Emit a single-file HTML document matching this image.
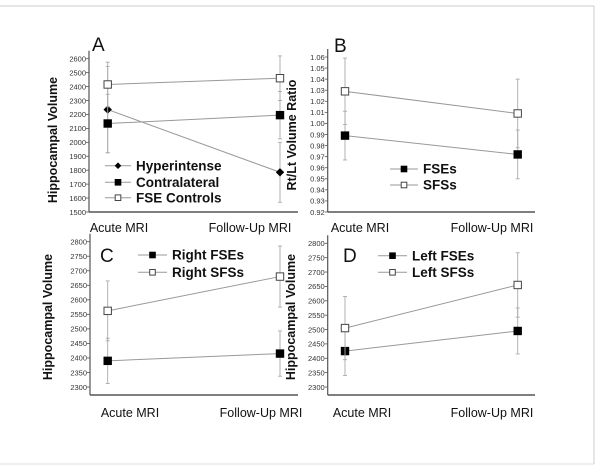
<!DOCTYPE html>
<html><head><meta charset="utf-8"><style>
html,body{margin:0;padding:0;background:#fff;}
svg{display:block;font-family:"Liberation Sans",sans-serif;}
</style></head><body>
<svg id="fig" width="600" height="471" viewBox="0 0 600 471">
<line x1="0" y1="6" x2="594" y2="6" stroke="#ccc" stroke-width="1"/>
<line x1="594" y1="6" x2="594" y2="464" stroke="#ccc" stroke-width="1"/>
<line x1="0" y1="464" x2="594" y2="464" stroke="#ddd" stroke-width="1"/>
</svg>
<script>
// ---- data ----
const categories = ["Acute MRI", "Follow-Up MRI"];
// Panel A
const aTicks = [1500,1600,1700,1800,1900,2000,2100,2200,2300,2400,2500,2600];
const aSeriesNames = ["Hyperintense","Contralateral","FSE Controls"];
const aHyper = [2235, 1785];
const aHyperErr = [310, 215];
const aContra = [2135, 2195];
const aContraErr = [210, 170];
const aControls = [2415, 2460];
const aControlsErr = [160, 160];
// Panel B
const bTicks = [0.92,0.93,0.94,0.95,0.96,0.97,0.98,0.99,1.00,1.01,1.02,1.03,1.04,1.05,1.06];
const bFSE = [0.989, 0.972];
const bFSEErr = [0.022, 0.022];
const bSFS = [1.029, 1.009];
const bSFSErr = [0.030, 0.031];
// Panel C
const cTicks = [2300,2350,2400,2450,2500,2550,2600,2650,2700,2750,2800];
const cFSE = [2390, 2415];
const cFSEErr = [78, 78];
const cSFS = [2562, 2680];
const cSFSErr = [103, 105];
// Panel D
const dTicks = [2300,2350,2400,2450,2500,2550,2600,2650,2700,2750,2800];
const dFSE = [2425, 2495];
const dFSEErr = [85, 80];
const dSFS = [2505, 2655];
const dSFSErr = [110, 112];

const NS = "http://www.w3.org/2000/svg";
const svg = document.getElementById("fig");
function mk(tag, attrs, parent){
  const e = document.createElementNS(NS, tag);
  for (const k in attrs) e.setAttribute(k, attrs[k]);
  (parent||svg).appendChild(e);
  return e;
}

function panel(cfg){
  const g = mk("g", {});
  
  
  const t0 = cfg.ticks[0], t1 = cfg.ticks[cfg.ticks.length-1];
  const y = v => cfg.yBot + (v - t0) / (t1 - t0) * (cfg.yTop - cfg.yBot);
  const x = i => cfg.xPts[i];
  const ya = mk("line", {x1:cfg.ax, y1:cfg.yTop-8, x2:cfg.ax, y2:cfg.axisY, stroke:"#555", "stroke-width":1.2}, g);
  
  
  const xa = mk("line", {x1:cfg.ax, y1:cfg.axisY, x2:cfg.axEnd, y2:cfg.axisY, stroke:"#555", "stroke-width":1.5}, g);
  
  
  cfg.ticks.forEach(v => {
    const tk = mk("line", {x1:cfg.ax-3, y1:y(v), x2:cfg.ax, y2:y(v), stroke:"#555", "stroke-width":0.8}, g);
    
    
    const tl = mk("text", {x:cfg.ax-3, y:y(v)+2.8, "font-size":7.5, "text-anchor":"end", fill:"#333"}, g);
    tl.textContent = cfg.fmt ? cfg.fmt(v) : v;
    
    
  });
  const yt = mk("text", {x:cfg.ytX, y:cfg.ytY, "font-size":12.5, "font-weight":"bold", "text-anchor":"middle", fill:"#111", transform:`rotate(-90 ${cfg.ytX} ${cfg.ytY})`}, g);
  yt.textContent = cfg.ytitle;
  
  
  categories.forEach((c, i) => {
    const xl = mk("text", {x:cfg.xLab[i], y:cfg.xLabY, "font-size":12.5, "text-anchor":"middle", fill:"#111"}, g);
    xl.textContent = c;
    
    
  });
  const pl = mk("text", {x:cfg.letterX, y:cfg.letterY, "font-size":19, fill:"#111"}, g);
  pl.textContent = cfg.id;
  
  
  cfg.series.forEach(s => {
    const sg = mk("g", {}, g);
    
    
    s.vals.forEach((v, i) => {
      const eb = mk("line", {x1:x(i), y1:y(v - s.err[i]), x2:x(i), y2:y(v + s.err[i]), stroke:"#aaa", "stroke-width":0.9}, sg);
      
      
      [v - s.err[i], v + s.err[i]].forEach(e => {
        const cap = mk("line", {x1:x(i)-2, y1:y(e), x2:x(i)+2, y2:y(e), stroke:"#aaa", "stroke-width":0.9}, sg);
        
        
      });
    });
    const ln = mk("line", {x1:x(0), y1:y(s.vals[0]), x2:x(1), y2:y(s.vals[1]), stroke:"#999", "stroke-width":1}, sg);
    
    
    s.vals.forEach((v, i) => {
      const m = marker(sg, s.shape, x(i), y(v), 4.2);
      
      
    });
  });
  cfg.series.forEach((s, k) => {
    const ly = cfg.legY[k];
    const lg = mk("g", {}, g);
    
    
    mk("line", {x1:cfg.legX0, y1:ly, x2:cfg.legX1, y2:ly, stroke:"#999", "stroke-width":1}, lg);
    marker(lg, s.shape, (cfg.legX0+cfg.legX1)/2, ly, 3.3);
    const lt = mk("text", {x:cfg.legX1+5, y:ly+4.7, "font-size":13.5, "font-weight":"bold", fill:"#111"}, lg);
    lt.textContent = s.name;
  });
}
function marker(p, shape, cx, cy, r){
  if (shape === "diamond") return mk("polygon", {points:`${cx},${cy-r} ${cx+r},${cy} ${cx},${cy+r} ${cx-r},${cy}`, fill:"#000"}, p);
  if (shape === "open") return mk("rect", {x:cx-r+0.5, y:cy-r+0.5, width:2*r-1, height:2*r-1, fill:"#fff", stroke:"#444", "stroke-width":1}, p);
  return mk("rect", {x:cx-r, y:cy-r, width:2*r, height:2*r, fill:"#000"}, p);
}

panel({id:"A", ticks:aTicks, yTop:58.7, yBot:212, axisY:212, ax:89, axEnd:298, xPts:[107.7,280],
  ytitle:"Hippocampal Volume", ytX:57, ytY:140, xLab:[119,250], xLabY:232, letterX:92, letterY:51,
  legY:[165.7,182.3,197.7], legX0:105, legX1:131,
  series:[{name:"Hyperintense",shape:"diamond",vals:aHyper,err:aHyperErr},
          {name:"Contralateral",shape:"filled",vals:aContra,err:aContraErr},
          {name:"FSE Controls",shape:"open",vals:aControls,err:aControlsErr}]});
panel({id:"B", ticks:bTicks, yTop:57, yBot:212, axisY:212, ax:327.7, axEnd:535, xPts:[345,517.7],
  fmt:v=>v.toFixed(2),
  ytitle:"Rt/Lt Volume Ratio", ytX:296, ytY:135, xLab:[360,492], xLabY:232, letterX:334, letterY:52,
  legY:[169,185], legX0:390, legX1:418,
  series:[{name:"FSEs",shape:"filled",vals:bFSE,err:bFSEErr},
          {name:"SFSs",shape:"open",vals:bSFS,err:bSFSErr}]});
panel({id:"C", ticks:cTicks, yTop:241.7, yBot:387, axisY:395, ax:90, axEnd:298, xPts:[107.7,280],
  ytitle:"Hippocampal Volume", ytX:52, ytY:317, xLab:[130,261], xLabY:417, letterX:100, letterY:262,
  legY:[255,272.3], legX0:138, legX1:167,
  series:[{name:"Right FSEs",shape:"filled",vals:cFSE,err:cFSEErr},
          {name:"Right SFSs",shape:"open",vals:cSFS,err:cSFSErr}]});
panel({id:"D", ticks:dTicks, yTop:243.3, yBot:387, axisY:395, ax:327.7, axEnd:535, xPts:[345,517.7],
  ytitle:"Hippocampal Volume", ytX:295, ytY:317, xLab:[362,492], xLabY:417, letterX:343, letterY:262,
  legY:[255.7,272.3], legX0:378, legX1:407,
  series:[{name:"Left FSEs",shape:"filled",vals:dFSE,err:dFSEErr},
          {name:"Left SFSs",shape:"open",vals:dSFS,err:dSFSErr}]});
</script>
</body></html>
